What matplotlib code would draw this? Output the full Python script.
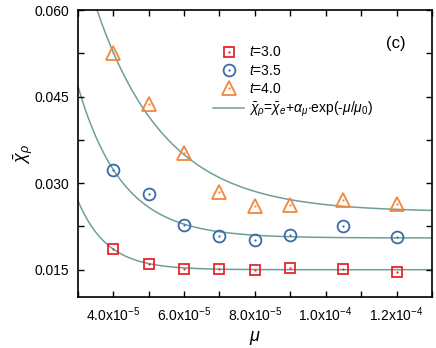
import numpy as np
import matplotlib
matplotlib.use("Agg")
import matplotlib.pyplot as plt
from matplotlib.ticker import MultipleLocator, FuncFormatter

plt.rcParams['font.family'] = ['Liberation Sans', 'DejaVu Sans']
plt.rcParams['mathtext.fontset'] = 'custom'
plt.rcParams['mathtext.rm'] = 'Liberation Sans'
plt.rcParams['mathtext.it'] = 'Liberation Sans:italic'
plt.rcParams['mathtext.bf'] = 'Liberation Sans:bold'

# data
mu = np.array([4.0e-5, 5.0e-5, 6.0e-5, 7.0e-5, 8.0e-5, 9.0e-5, 1.05e-4, 1.2e-4])
chi_t30 = [0.0186, 0.0160, 0.0152, 0.0151, 0.0149, 0.0153, 0.0151, 0.0146]
chi_t35 = [0.0323, 0.0282, 0.0227, 0.0208, 0.0202, 0.0211, 0.0225, 0.0207]
chi_t40 = [0.0525, 0.0437, 0.0352, 0.0284, 0.0261, 0.0262, 0.0271, 0.0264]

# fit parameters (chi_e, alpha_mu, mu_0) for each t
fit_t30 = (0.0150, 0.459, 0.825e-5)
fit_t35 = (0.0205, 0.292, 1.25e-5)
fit_t40 = (0.0250, 0.216, 1.95e-5)

labels = ['$t$=3.0', '$t$=3.5', '$t$=4.0']
colors = ['#e5262b', '#3d6aa6', '#f0873a']
markers = ['s', 'o', '^']
msizes = [7.5, 8.5, 9.5]
line_color = '#6f9f9d'

fig = plt.figure(figsize=(4.36, 3.48), dpi=100)
ax = fig.add_axes([0.178, 0.147, 0.813, 0.824])

x_fit = np.linspace(3.0e-5, 1.3e-4, 400)
line = None
for (ye, a, m0) in [fit_t30, fit_t35, fit_t40]:
    line, = ax.plot(x_fit, ye + a * np.exp(-x_fit / m0), color=line_color, lw=1.1, zorder=1)

handles = []
for y, c, m, ms in zip([chi_t30, chi_t35, chi_t40], colors, markers, msizes):
    h1, = ax.plot(mu, y, ls='none', marker=m, ms=ms, mfc='none', mec=c, mew=1.3, zorder=3)
    h2, = ax.plot(mu, y, ls='none', marker='o', ms=1.6, mfc=c, mec=c, mew=0, zorder=3)
    handles.append((h1, h2))

leg_labels = labels + [r'$\bar{\chi}_\rho$=$\bar{\chi}_e$+$\alpha_\mu$$\cdot$exp(-$\mu$/$\mu_0$)']
ax.legend(handles + [line], leg_labels, loc='upper left', bbox_to_anchor=(0.367, 0.896),
          frameon=False, fontsize=10, handlelength=2.2, handletextpad=0.4,
          labelspacing=0.3, borderaxespad=0)

ax.text(0.898, 0.882, '(c)', transform=ax.transAxes, fontsize=12, ha='center', va='center')

ax.set_xlim(3.0e-5, 1.3e-4)
ax.set_ylim(0.0103, 0.060)
ax.xaxis.set_major_locator(MultipleLocator(2e-5))
ax.xaxis.set_minor_locator(MultipleLocator(1e-5))
ax.yaxis.set_major_locator(MultipleLocator(0.015))
ax.yaxis.set_minor_locator(MultipleLocator(0.0075))


def sci_fmt(v, pos):
    if v == 0:
        return '0'
    e = int(np.floor(np.log10(abs(v)) + 1e-9))
    return '%.1fx10$^{%d}$' % (v / 10 ** e, e)


ax.xaxis.set_major_formatter(FuncFormatter(sci_fmt))
ax.yaxis.set_major_formatter(FuncFormatter(lambda v, p: '%.3f' % v))
ax.tick_params(which='both', direction='in', top=True, right=True, length=4, width=1,
               labelsize=10, pad=6)
for s in ax.spines.values():
    s.set_linewidth(1.2)

ax.set_xlabel(r'$\mu$', fontsize=13, labelpad=4)
ax.set_ylabel(r'$\bar{\chi}_\rho$', fontsize=13, labelpad=0)

fig.savefig('out.png', dpi=100)
